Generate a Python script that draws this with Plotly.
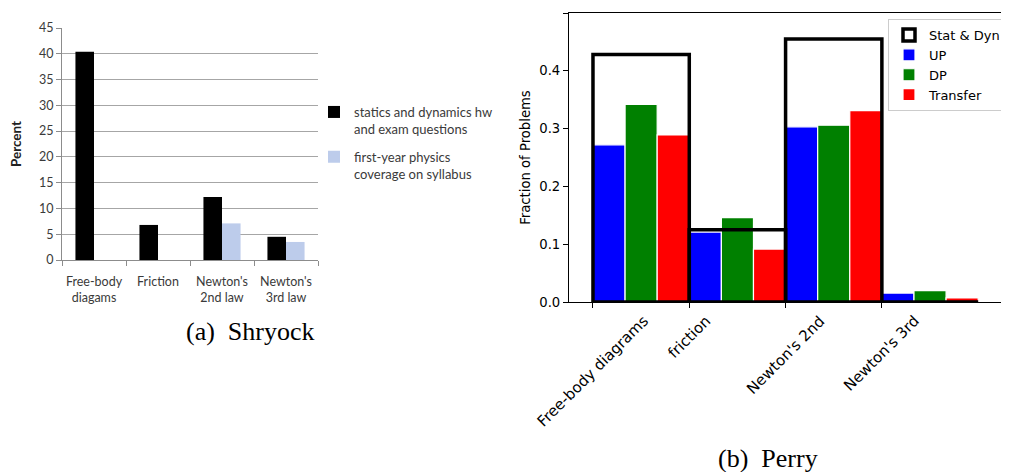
import plotly.graph_objects as go

# The page body adds an 8px margin, so the figure is sized to fill the rest of the window
OFF = 8
W, H = 1009 - OFF, 472 - OFF

# ---------- (a) Shryock ----------
a_categories = ["Free-body<br>diagams", "Friction", "Newton's<br>2nd law", "Newton's<br>3rd law"]
a_statics = [40.4, 6.8, 12.2, 4.5]
a_firstyear = [0, 0, 7.1, 3.5]
a_series_names = ["statics and dynamics hw<br>and exam questions",
                  "first-year physics<br>coverage on syllabus"]
a_yticks = [0, 5, 10, 15, 20, 25, 30, 35, 40, 45]

# ---------- (b) Perry ----------
b_categories = ["Free-body diagrams", "friction", "Newton's 2nd", "Newton's 3rd"]
b_positions = [0, 1, 2, 3]
b_statdyn = [0.428, 0.125, 0.455, 0.0]
b_up = [0.272, 0.121, 0.303, 0.0155]
b_dp = [0.342, 0.146, 0.306, 0.0196]
b_transfer = [0.289, 0.0915, 0.331, 0.007]
b_yticks = [0.0, 0.1, 0.2, 0.3, 0.4, 0.5]

def px_x(p):
    return (p - OFF) / W

def px_y(p):
    return (H - (p - OFF)) / H

fig = go.Figure()

# left chart traces
fig.add_trace(go.Bar(x=a_categories, y=a_statics, name=a_series_names[0],
                     marker=dict(color="#000000", line=dict(width=0)),
                     xaxis="x", yaxis="y", legend="legend2", legendgroup="a1"))
fig.add_trace(go.Bar(x=a_categories, y=a_firstyear, name=a_series_names[1],
                     marker=dict(color="#bdcceb", line=dict(width=0)),
                     xaxis="x", yaxis="y", legend="legend2", legendgroup="a2"))

# right chart traces
grp_w = 1.0 / 3.0
for k, (nm, vals, col) in enumerate([("UP", b_up, "#0000ff"),
                                      ("DP", b_dp, "#008000"),
                                      ("Transfer", b_transfer, "#ff0000")]):
    fig.add_trace(go.Bar(x=b_positions, y=vals, name=nm, offset=k * grp_w, width=grp_w,
                         marker=dict(color=col, line=dict(color="white", width=1.2)),
                         xaxis="x2", yaxis="y2", legend="legend", legendrank=2 + k))
fig.add_trace(go.Bar(x=b_positions, y=b_statdyn, name="Stat & Dyn", offset=0, width=1.0,
                     marker=dict(color="rgba(255,255,255,0)", line=dict(color="black", width=3.5)),
                     xaxis="x2", yaxis="y2", legend="legend", legendrank=1))

LFAM = "Lato, 'Open Sans', sans-serif"
left_font = dict(family=LFAM, size=12.5, color="#3a3a3a")
right_font = dict(family="DejaVu Sans", size=13.2, color="black")
xlab_font = dict(family="DejaVu Sans", size=15, color="black")
cap_font = dict(family="Liberation Serif, Times New Roman, serif", size=26, color="black")

fig.update_layout(
    width=W, height=H, autosize=False,
    margin=dict(l=0, r=0, t=0, b=0, autoexpand=False),
    paper_bgcolor="white", plot_bgcolor="rgba(0,0,0,0)",
    barmode="group", bargap=0.42, bargroupgap=0,
    showlegend=True,
    xaxis=dict(domain=[px_x(62), px_x(318)], type="category", automargin=False,
               showline=True, linecolor="#8c8c8c", linewidth=1,
               ticks="outside", tickson="boundaries", ticklen=5, tickcolor="#8c8c8c",
               ticklabelstandoff=10, tickangle=0,
               showgrid=False, tickfont=left_font, anchor="y", fixedrange=True),
    yaxis=dict(domain=[px_y(260), px_y(28)], range=[0, 45], tickvals=a_yticks, automargin=False,
               showline=True, linecolor="#8c8c8c", linewidth=1,
               ticks="outside", ticklen=5, tickcolor="#8c8c8c",
               showgrid=True, gridcolor="#a6a6a6", gridwidth=1, zeroline=False,
               tickfont=left_font, anchor="x",
               title=dict(text="<b>Percent</b>", font=dict(family=LFAM, size=13.5, color="#222"), standoff=15)),
    xaxis2=dict(domain=[px_x(569), 1.0], range=[-0.249, 4.32], automargin=False,
                tickvals=b_positions, showticklabels=False,
                showline=True, mirror=True, linecolor="black", linewidth=1.2,
                ticks="outside", ticklen=5, tickcolor="black", tickwidth=1.2,
                showgrid=False, zeroline=False, anchor="y2"),
    yaxis2=dict(domain=[px_y(302), px_y(13)], range=[0, 0.5], tickvals=b_yticks, automargin=False,
                tickformat=".1f",
                showline=True, linecolor="black", linewidth=1.2,
                ticks="outside", ticklen=5, tickcolor="black", tickwidth=1.2,
                showgrid=False, zeroline=False, tickfont=right_font, anchor="x2",
                title=dict(text="Fraction of Problems", font=right_font, standoff=5)),
    legend=dict(x=px_x(888), y=px_y(19), xanchor="left", yanchor="top",
                bgcolor="rgba(255,255,255,0.85)", bordercolor="#cccccc", borderwidth=1,
                font=dict(family="DejaVu Sans", size=13, color="black"),
                traceorder="normal", itemwidth=30, tracegroupgap=2),
    legend2=dict(x=px_x(314), y=px_y(97), xanchor="left", yanchor="top",
                 bgcolor="rgba(0,0,0,0)", borderwidth=0, valign="top",
                 font=dict(family=LFAM, size=13, color="#3a3a3a"),
                 traceorder="grouped", itemwidth=30, tracegroupgap=8),
)

annotations = []
for pos, lab in zip(b_positions, b_categories):
    annotations.append(dict(x=pos, y=0, xref="x2", yref="y2", text=lab, showarrow=False,
                            textangle=-45, xanchor="center", yanchor="top", yshift=-7,
                            font=xlab_font))
annotations.append(dict(x=px_x(250), y=px_y(331), xref="paper", yref="paper",
                        text="(a)\u00a0\u00a0Shryock", showarrow=False,
                        xanchor="center", yanchor="middle", font=cap_font))
annotations.append(dict(x=px_x(768), y=px_y(458), xref="paper", yref="paper",
                        text="(b)\u00a0\u00a0Perry", showarrow=False,
                        xanchor="center", yanchor="middle", font=cap_font))
fig.update_layout(annotations=annotations)

fig.write_html("out.html")
